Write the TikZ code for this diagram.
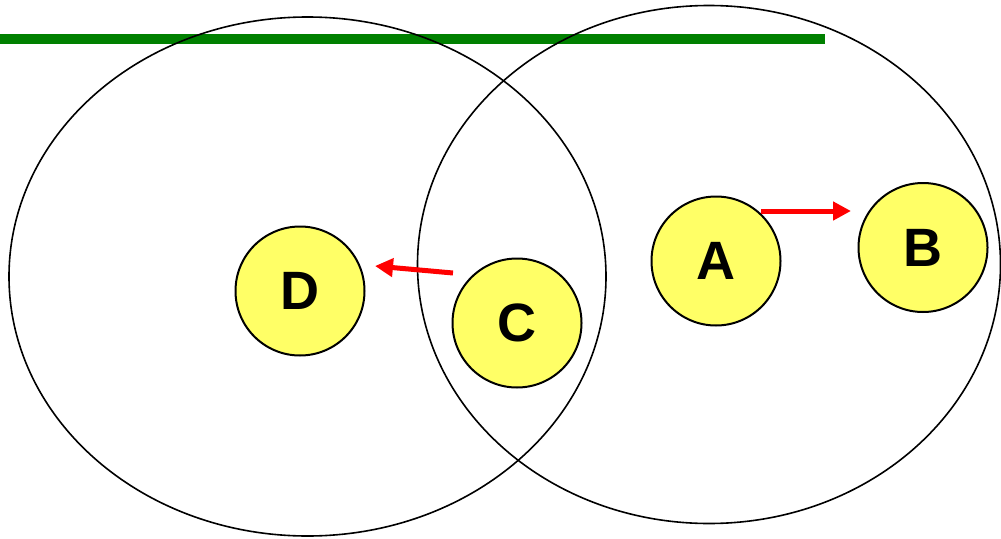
\documentclass[tikz,border=0pt]{standalone}
\usepackage{fontspec}
\setmainfont{Liberation Sans}
\usetikzlibrary{arrows.meta}
\definecolor{ballfill}{HTML}{FFFF66}
\definecolor{bargreen}{HTML}{008000}
\tikzset{
  ball/.style={circle, draw=black, line width=2pt, fill=ballfill, minimum size=129pt, inner sep=0pt, font=\fontsize{54}{54}\selectfont\bfseries},
  region/.style={draw=black, line width=1.6pt},
  move/.style={draw=red, line width=5pt, -{Triangle[length=18pt,width=18pt]}},
}
\begin{document}
\begin{tikzpicture}[x=1pt,y=-1pt]
\useasboundingbox (0,0) rectangle (1001,538);
\draw[bargreen, line width=10pt] (0,39) -- (825,39);
\draw[region] (307.5,276.5) ellipse [x radius=298.5, y radius=259.5];
\draw[region] (709,264.5) ellipse [x radius=291.5, y radius=259];
\node[ball] (D) at (300,291) {D};
\node[ball] (C) at (517,323) {C};
\node[ball] (A) at (716,261) {A};
\node[ball] (B) at (923,247.5) {B};
\coordinate (cTail) at (453,273);
\coordinate (dTip) at (375,266);
\coordinate (aTail) at (761,211);
\coordinate (bTip) at (851,211);
\draw[move] (cTail) -- (dTip);
\draw[move] (aTail) -- (bTip);
\end{tikzpicture}
\end{document}
